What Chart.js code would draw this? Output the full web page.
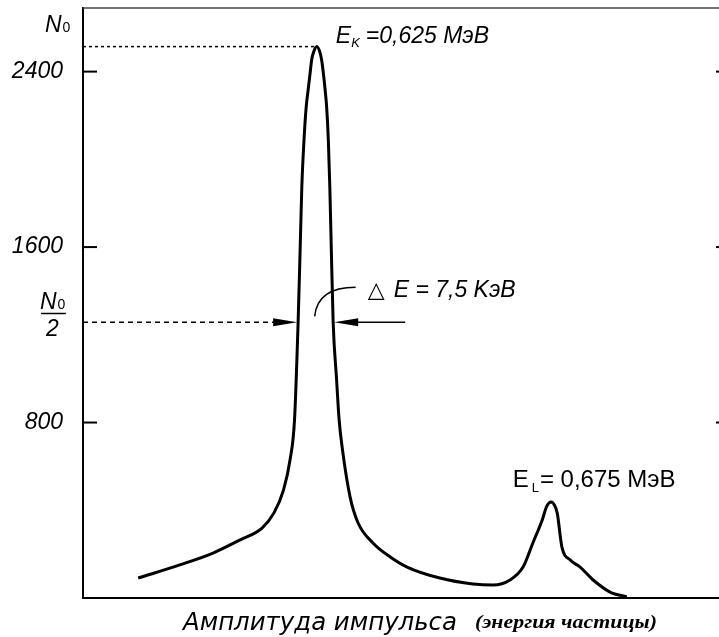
<!DOCTYPE html>
<html>
<head>
<meta charset="utf-8">
<script src="https://cdn.jsdelivr.net/npm/chart.js@4.4.0/dist/chart.umd.min.js"></script>
<style>
html,body{margin:0;padding:0;background:#fff;}
</style>
</head>
<body>
<canvas id="spectrum" width="719" height="637"></canvas>
<script>

// energy, MeV
const energy = [0.5868,0.5957,0.6028,0.6086,0.61328,0.61584,0.61787,0.61927,0.62023,0.62100,
0.62143,0.62179,0.62226,0.62273,0.62314,0.62357,0.62389,0.62432,0.62500,0.62564,
0.62603,0.62639,0.62678,0.62710,0.62746,0.62778,0.62810,0.62849,0.62923,0.62977,
0.63041,0.63212,0.63383,0.6370,0.6407,0.6443,0.6513,0.6584,0.6627,0.6663,
0.6691,0.6712,0.6732,0.6742,0.6751,0.6758,0.6764,0.6774,0.6792,0.6813,
0.6841,0.6877,0.6913];

// counts
const counts = [91,151,205,265,319,388,492,629,812,1258,
1587,1874,2088,2239,2316,2394,2453,2489,2514,2489,
2453,2394,2316,2239,2088,1874,1587,1258,994,812,
688,460,342,251,187,141,91,64,59,82,
141,251,356,420,438,424,388,233,173,141,
82,27,5];

const yTicks = [800,1600,2400];

const peakK = 0.625;
const halfLeft = 0.6210;
const halfRight = 0.6285;

const N0 = Math.max(...counts);

const sans = '"Liberation Sans", Arial, sans-serif';


function sub(ctx,x,y,big,small,bigFont,smallFont,drop,gap){
ctx.font = bigFont;
ctx.fillText(big,x,y);
let w = ctx.measureText(big).width+(gap||0);
ctx.font = smallFont;
ctx.fillText(small,x+w,y+drop);
return x+w+ctx.measureText(small).width;
}

function fitText(ctx,text,x,y,width){
let w = ctx.measureText(text).width;
ctx.save();
ctx.translate(x,y);
ctx.scale(width/w,1);
ctx.fillText(text,0,0);
ctx.restore();
}


const extras = {

id:"extras",

afterDraw(chart){

const ctx = chart.ctx;
const a = chart.chartArea;
const xs = chart.scales.x;
const ys = chart.scales.y;

ctx.save();
ctx.strokeStyle = "#000";
ctx.fillStyle = "#000";

// top frame line
ctx.strokeStyle = "#444";
ctx.lineWidth = 1.5;
ctx.beginPath();
ctx.moveTo(a.left,a.top);
ctx.lineTo(a.right,a.top);
ctx.stroke();

// inside ticks
ctx.strokeStyle = "#000";
ys.ticks.forEach(t=>{
let py = ys.getPixelForValue(t.value);
ctx.lineWidth = 2;
ctx.beginPath();
ctx.moveTo(a.left,py);
ctx.lineTo(a.left+14,py);
ctx.stroke();
ctx.beginPath();
ctx.moveTo(a.right-3,py);
ctx.lineTo(a.right,py);
ctx.stroke();
});

// N0 dotted line
let yTop = ys.getPixelForValue(N0);
ctx.lineWidth = 1.5;
ctx.setLineDash([3,3]);
ctx.beginPath();
ctx.moveTo(a.left,yTop);
ctx.lineTo(xs.getPixelForValue(0.6245),yTop);
ctx.stroke();

// N0/2 dashed line and arrows
let yHalf = ys.getPixelForValue(N0/2);
let xl = xs.getPixelForValue(halfLeft);
let xr = xs.getPixelForValue(halfRight);

ctx.setLineDash([5,4]);
ctx.beginPath();
ctx.moveTo(a.left,yHalf);
ctx.lineTo(xl-22,yHalf);
ctx.stroke();
ctx.setLineDash([]);

ctx.beginPath();
ctx.moveTo(xl-1,yHalf);
ctx.lineTo(xl-25,yHalf-4);
ctx.lineTo(xl-25,yHalf+4);
ctx.closePath();
ctx.fill();

ctx.beginPath();
ctx.moveTo(xr+1,yHalf);
ctx.lineTo(xr+25,yHalf-4);
ctx.lineTo(xr+25,yHalf+4);
ctx.closePath();
ctx.fill();

ctx.lineWidth = 1.5;
ctx.beginPath();
ctx.moveTo(xr+20,yHalf);
ctx.lineTo(xr+72,yHalf);
ctx.stroke();

// leader arc to the delta E label
let xm = (xl+xr)/2;
ctx.beginPath();
ctx.moveTo(xm-1,yHalf-6);
ctx.quadraticCurveTo(xm+2,yHalf-35,xm+40,yHalf-35);
ctx.stroke();

// texts
ctx.textBaseline = "alphabetic";
ctx.textAlign = "left";

// N0 at top of axis
sub(ctx,45,32,"N","0","italic 23px "+sans,"14px "+sans,0,1);

// N0/2
sub(ctx,40,309,"N","0","italic 23px "+sans,"14px "+sans,0,1);
ctx.lineWidth = 1.5;
ctx.beginPath();
ctx.moveTo(41,313.5);
ctx.lineTo(66,313.5);
ctx.stroke();
ctx.font = "italic 23px "+sans;
ctx.fillText("2",46,336);

// E_K label
let xk = xs.getPixelForValue(peakK);
let e = sub(ctx,xk+19,43,"E","K","italic 23px "+sans,"italic 13px "+sans,4,0);
ctx.font = "italic 23px "+sans;
ctx.fillText("=0,625 MэВ",e+6,43);

// delta E label
ctx.font = "22px \"DejaVu Sans\", sans-serif";
ctx.fillText("\u25B3",xm+52,297);
ctx.font = "italic 23px "+sans;
ctx.fillText("E = 7,5 KэВ",xm+78,297);

// E_L label
let xL = xs.getPixelForValue(0.675);
e = sub(ctx,xL-38,487,"E","L","24px "+sans,"13px "+sans,5,3);
ctx.font = "24px "+sans;
ctx.fillText("= 0,675 MэВ",e+1,487);

// x axis title
ctx.font = "italic 25px \"Liberation Sans Narrow\", \"DejaVu Sans Condensed\", "+sans;
fitText(ctx,"Амплитуда импульса",183,630,274);
ctx.font = "italic bold 19px \"Liberation Serif\", \"DejaVu Serif\", serif";
fitText(ctx,"(энергия частицы)",475,628,182);

ctx.restore();

}

};


const spectrumChart =
new Chart(
document.getElementById("spectrum"),
{

type:"line",

data:{

datasets:[{

data:energy.map((v,i)=>({x:v,y:counts[i]})),

borderColor:"#000",

borderWidth:3,

pointRadius:0,

fill:false,

cubicInterpolationMode:"monotone"

}]

},

options:{

responsive:false,

animation:false,

layout:{padding:{top:8,left:0,right:0,bottom:0}},

plugins:{legend:{display:false},tooltip:{enabled:false}},

scales:{

x:{
type:"linear",
min:0.575,
max:0.711,
ticks:{display:false},
grid:{display:false,drawTicks:false},
border:{color:"#000",width:2},
afterFit:s=>{s.height=39;s.paddingLeft=0;s.paddingRight=0;}
},

y:{
min:0,
max:2690,
afterBuildTicks:s=>{s.ticks=yTicks.map(v=>({value:v}));},
ticks:{
color:"#000",
padding:20,
font:{family:sans,size:23,style:"italic"},
callback:v=>String(v)
},
grid:{display:false,drawTicks:false},
border:{color:"#000",width:2},
afterFit:s=>{s.width=83;s.paddingTop=0;s.paddingBottom=0;}
}

}

},

plugins:[extras]

});

</script>
</body>
</html>
